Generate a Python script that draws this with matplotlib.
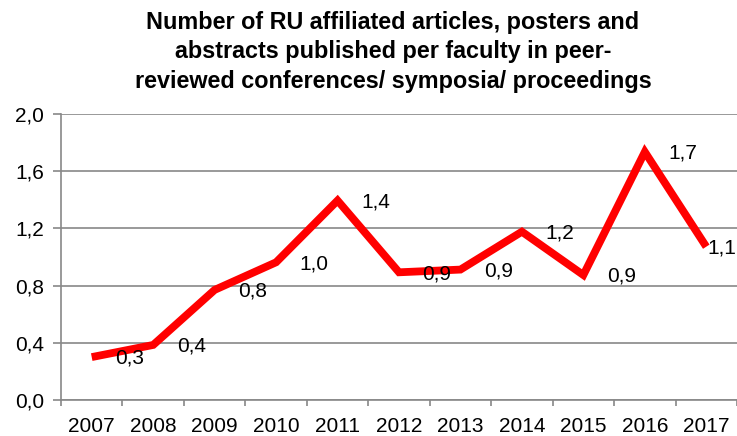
import matplotlib
matplotlib.use("Agg")
import matplotlib.pyplot as plt

years = ["2007", "2008", "2009", "2010", "2011", "2012", "2013", "2014", "2015", "2016", "2017"]
values = [0.30, 0.385, 0.77, 0.963, 1.395, 0.893, 0.912, 1.177, 0.874, 1.735, 1.072]
yticks = [0.0, 0.4, 0.8, 1.2, 1.6, 2.0]
title = ("Number of RU affiliated articles, posters and\n"
         "abstracts published per faculty in peer-\n"
         "reviewed conferences/ symposia/ proceedings")

plt.rcParams['font.family'] = ['Liberation Sans', 'DejaVu Sans']

fig = plt.figure(figsize=(7.37, 4.36), dpi=100)
ax = fig.add_axes([61/737, 36/436, 676/737, 286/436])

x = list(range(len(years)))
ax.plot(x, values, color='#ff0000', lw=5.6, solid_joinstyle='miter', solid_capstyle='butt', zorder=3, clip_on=False)

for i, v in enumerate(values):
    lab = f"{v:.1f}".replace('.', ',')
    dx = 17 if i < len(values) - 1 else 1
    ax.annotate(lab, (i, v), xytext=(dx, -1), textcoords='offset points',
                ha='left', va='center', fontsize=15, color='black', zorder=4,
                annotation_clip=False)

ax.set_xlim(-0.5, len(years) - 0.5)
ax.set_ylim(0, 2.0)
ax.set_yticks(yticks)
ax.set_yticklabels([f"{t:.1f}".replace('.', ',') for t in yticks], fontsize=15)
ax.set_xticks(x)
ax.set_xticklabels(years, fontsize=15)
ax.set_xticks([i - 0.5 for i in range(len(years) + 1)], minor=True)
ax.tick_params(axis='x', which='major', length=0, pad=12)
ax.tick_params(axis='x', which='minor', length=4, color='#888888', width=1.2)
ax.tick_params(axis='y', length=6, color='#888888', width=1.2, pad=6)
ax.grid(axis='y', color='#888888', lw=1.2, zorder=1)
ax.set_axisbelow(True)
for s in ['top', 'right']:
    ax.spines[s].set_visible(False)
for s in ['left', 'bottom']:
    ax.spines[s].set_color('#888888')
    ax.spines[s].set_linewidth(1.2)

fig.text(393/737, 1 - 11/436, title, ha='center', va='top', fontsize=16.8,
         fontweight='bold', linespacing=1.36)

fig.savefig('out.png', dpi=100)
